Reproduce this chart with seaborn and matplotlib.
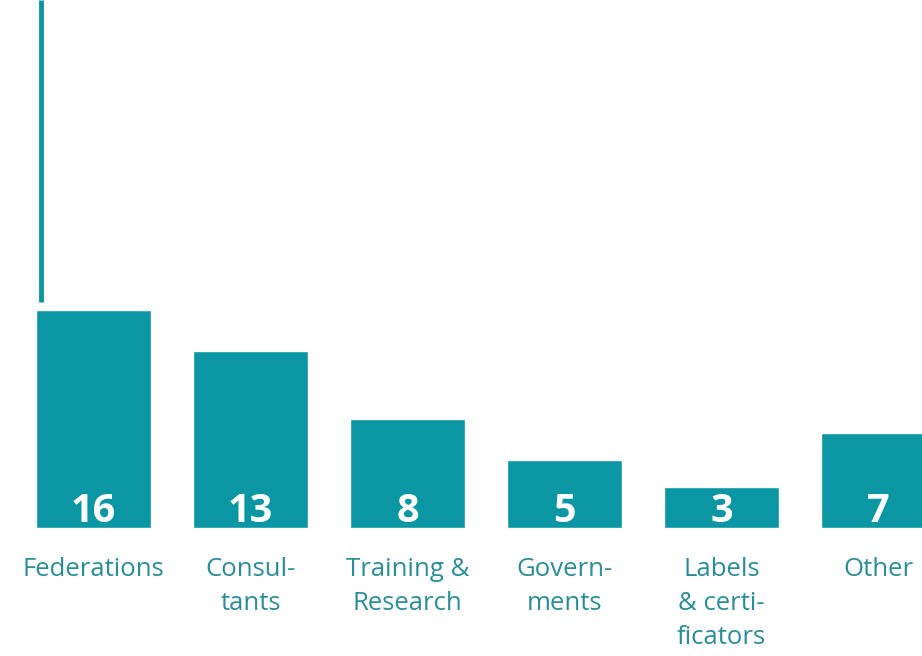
import matplotlib
matplotlib.use("Agg")
import matplotlib.pyplot as plt
import seaborn as sns
import pandas as pd

kategoriler = ["Federations", "Consul-\ntants", "Training &\nResearch",
               "Govern-\nments", "Labels\n& certi-\nficators", "Other"]
degerler = [16, 13, 8, 5, 3, 7]

bar_rengi = "#0b96a3"
yazi_rengi = "#2a8d97"

df = pd.DataFrame({"kategori": kategoriler, "deger": degerler})

sns.set_style("white")
plt.rcParams["font.family"] = ["Open Sans", "DejaVu Sans"]

fig = plt.figure(figsize=(9.22, 6.56), dpi=100)
ax = fig.add_axes([0, 128 / 656, 1, 528 / 656])

sns.barplot(data=df, x="kategori", y="deger", color=bar_rengi,
            saturation=1, width=115 / 157, ax=ax)

ax.set_xlim(-93.5 / 157, -93.5 / 157 + 922 / 157)
ax.set_ylim(0, 528 / 13.6)

# degerleri bar icine yaz
for i, d in enumerate(degerler):
    ax.text(i, 0.45, str(d), ha="center", va="baseline", color="white",
            fontsize=28.5, fontweight="bold")

# sol ustteki dikey cizgi
x_cizgi = 0 - (115 / 157) / 2 + 0.03
ax.plot([x_cizgi, x_cizgi], [degerler[0] + 0.65, 528 / 13.6],
        color=bar_rengi, lw=3.5, solid_capstyle="butt")

ax.set_xlabel("")
ax.set_ylabel("")
ax.set_yticks([])
ax.tick_params(axis="x", length=0, pad=21, labelsize=18.5, labelcolor=yazi_rengi)
for lbl in ax.get_xticklabels():
    lbl.set_linespacing(1.48)
    lbl.set_va("top")
sns.despine(ax=ax, left=True, bottom=True)

fig.savefig("out.png", dpi=100)
plt.close()
